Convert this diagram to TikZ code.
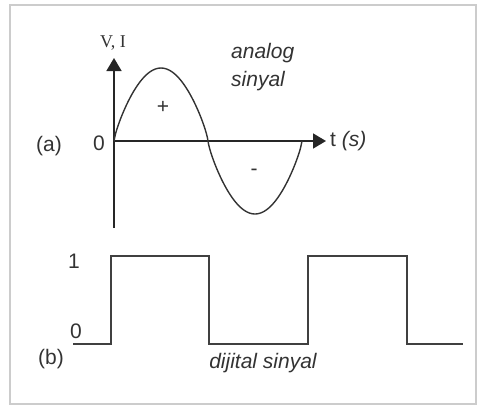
\documentclass[tikz,border=0pt]{standalone}
\usepackage{fontspec}
\setmainfont{Liberation Sans}
\newfontfamily\serifvi{Liberation Serif}
\usetikzlibrary{arrows.meta}
\begin{document}
\begin{tikzpicture}[
    x=1pt, y=-1pt,
    lbl/.style={font=\fontsize{21}{23}\selectfont, text=black!80, inner sep=0pt},
    ilbl/.style={lbl, font=\fontsize{21}{23}\selectfont\itshape},
    axis/.style={-{Triangle[length=13pt,width=15pt]}, line width=1.6pt, black!85},
    wave/.style={line width=1.4pt, black!80},
    pulse/.style={line width=1.8pt, black!75},
  ]
    \useasboundingbox (0,0) rectangle (477,408);
    \draw[black!20, line width=2pt] (10,5) rectangle (476,404);

    % --- (a) analog ---
    \coordinate (o)  at (114,141);
    \coordinate (yb) at (114,228);
    \coordinate (yt) at (114,58);
    \coordinate (xt) at (326,141);
    \draw[axis] (yb) -- (yt);
    \draw[axis] (o) -- (xt);
    \draw[wave] plot[domain=0:360, samples=120, smooth]
      ({114+\x/360*188},{141-73*sin(\x)/max(abs(sin(\x)),0.001)^0.22});

    \node[lbl, font=\fontsize{18}{20}\selectfont\serifvi] (vi) at (113,43) {V, I};
    \node[lbl] (zeroa) at (99,143) {0};
    \node[lbl] (pa) at (49,146) {(a)};
    \node[lbl] (plus) at (163,107) {+};
    \node[lbl] (minus) at (254,172) {-};
    \node[lbl, anchor=west] (t) at (330,141) {t \textit{(s)}};
    \node[ilbl, anchor=west] (an) at (231,53) {analog};
    \node[ilbl, anchor=west] (sy) at (231,81) {sinyal};

    % --- (b) digital ---
    \coordinate (d0) at (73,344);
    \coordinate (d1) at (111,344);
    \coordinate (d2) at (111,256);
    \coordinate (d3) at (209,256);
    \coordinate (d4) at (209,344);
    \coordinate (d5) at (308,344);
    \coordinate (d6) at (308,256);
    \coordinate (d7) at (407,256);
    \coordinate (d8) at (407,344);
    \coordinate (d9) at (463,344);
    \draw[pulse] (d0) -- (d1) -- (d2) -- (d3) -- (d4) -- (d5) -- (d6) -- (d7) -- (d8) -- (d9);

    \node[lbl] (one) at (74,261) {1};
    \node[lbl] (zerob) at (76,331) {0};
    \node[lbl] (pb) at (51,359) {(b)};
    \node[ilbl] (dj) at (263,363) {dijital sinyal};
\end{tikzpicture}
\end{document}
